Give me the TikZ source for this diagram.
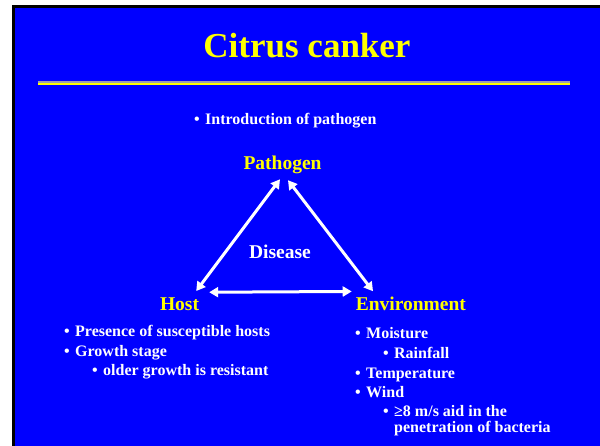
\documentclass[tikz,border=0pt]{standalone}
\usepackage{fontspec}
\setmainfont{Liberation Serif}
\usetikzlibrary{calc,arrows.meta,positioning}
\definecolor{slide_blue}{RGB}{0,0,255}
\definecolor{slide_yellow}{RGB}{255,255,0}
\definecolor{rule_gray}{RGB}{160,160,175}
\newcommand{\bul}{\llap{•\hspace{5.5pt}}}
\tikzset{
  titletext/.style  = {text=slide_yellow, font=\fontsize{35}{40}\selectfont\bfseries, anchor=base},
  corner/.style     = {text=slide_yellow, font=\fontsize{19.5}{23}\selectfont\bfseries, inner sep=2pt, anchor=base},
  centre/.style     = {corner, text=white},
  item/.style       = {text=white, font=\fontsize{16}{19}\selectfont\bfseries, inner sep=0pt, anchor=base west},
  link/.style       = {white, line width=3pt, {Triangle[length=9pt,width=10pt]}-{Triangle[length=9pt,width=10pt]}}
}

\begin{document}
\begin{tikzpicture}[x=1pt, y=-1pt]
    \useasboundingbox (0,0) rectangle (600,446);

    % ----- Slide background -----
    \fill[white] (0,0) rectangle (600,446);
    \fill[black] (12,5) rectangle (600,446);
    \fill[slide_blue] (15,8) rectangle (600,446);

    % ----- Title and rule -----
    \node[titletext] (title) at (307,57.7) {Citrus canker};
    \fill[rule_gray] (38,81) rectangle (570,82.7);
    \fill[slide_yellow] (38,83) rectangle (570,85.3);

    \node[item] (intro) at (205,125) {\bul Introduction of pathogen};

    % ----- Disease triangle -----
    \node[corner] (pathogen) at (282.5,169.3) {Pathogen};
    \node[corner] (host) at (179.5,311) {Host};
    \node[corner] (environment) at (410.9,311) {Environment};
    \node[centre] (disease) at (280,258.3) {Disease};

    \draw[link] ($(pathogen.south)+(-2.5,3.5)$) -- ($(host.north east)+(-5,-5)$);
    \draw[link] ($(pathogen.south)+(5.5,4.4)$) -- ($(environment.north west)+(19.4,-4)$);
    \draw[link] ($(host.north east)+(8,-3.8)$) -- ($(environment.north west)+(-1.9,-3.8)$);

    % ----- Host factors -----
    \node[item] (host1) at (75,336.7) {\bul Presence of susceptible hosts};
    \node[item] (host2) at (75,356.7) {\bul Growth stage};
    \node[item] (host2a) at (103,376) {\bul older growth is resistant};

    % ----- Environment factors -----
    \node[item] (env1) at (366,339) {\bul Moisture};
    \node[item] (env1a) at (394,358.3) {\bul Rainfall};
    \node[item] (env2) at (366,378.3) {\bul Temperature};
    \node[item] (env3) at (366,397.3) {\bul Wind};
    \node[item] (env3a) at (394,416.7) {\bul ≥8 m/s aid in the};
    \node[item] (env3b) at (394,432.5) {penetration of bacteria};
\end{tikzpicture}
\end{document}
